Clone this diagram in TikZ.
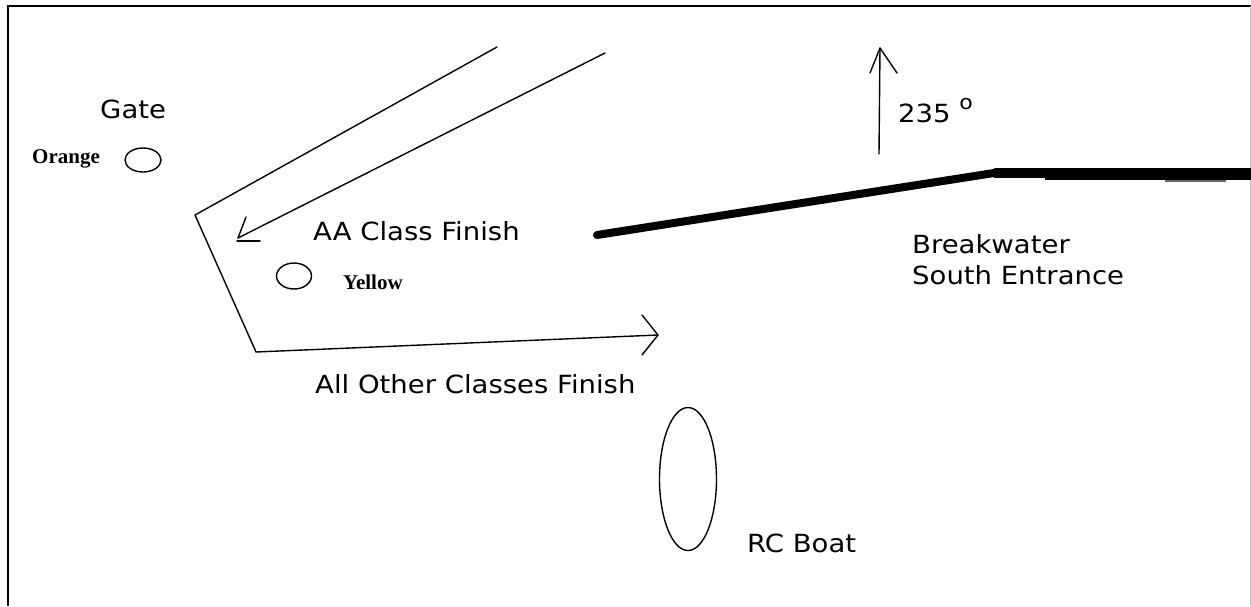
\documentclass[tikz,border=0pt]{standalone}
\usepackage{fontspec}
\setmainfont{Liberation Serif}
\newfontfamily\dvs{DejaVu Sans}
\usetikzlibrary{shapes.geometric}
\newcommand\wide[1]{\scalebox{1.1}[1]{#1}}
\tikzset{
  lbl/.style={anchor=base west, inner sep=0pt, font=\dvs\fontsize{25}{31}\selectfont},
  tag/.style={anchor=base west, inner sep=0pt, font=\bfseries\fontsize{21}{24}\selectfont},
  thinline/.style={line width=1.4pt, line cap=round, line join=round},
  buoy/.style={draw, ellipse, inner sep=0pt, line width=1.4pt},
}
\begin{document}
\begin{tikzpicture}[x=1pt, y=-1pt]
\useasboundingbox (0,0) rectangle (1251,606);
% frame
\draw[line width=2pt] (8,606) -- (8,6) -- (1251,6);
\draw[line width=1pt, black!25] (1250,6) -- (1250,606);

% labels
\node[lbl] (gate) at (100,118) {\wide{Gate}};
\node[tag] (orangelbl) at (32,163) {Orange};
\node[buoy, minimum width=36pt, minimum height=24pt] (orange) at (143,160) {};
\node[lbl] (aa) at (313,240) {\wide{AA Class Finish}};
\node[buoy, minimum width=35pt, minimum height=26pt] (yellow) at (294,276) {};
\node[tag] (yellowlbl) at (343,289) {Yellow};
\node[lbl] (allother) at (315,393) {\wide{All Other Classes Finish}};
\node[lbl] (deg) at (898,122) {\wide{235 \raisebox{13pt}{\fontsize{20}{20}\selectfont o}}};
\node[lbl, align=left] (bw) at (912,284) {\wide{Breakwater}\\\wide{South Entrance}};
\node[lbl] (rclbl) at (747,552) {\wide{RC Boat}};
\node[buoy, minimum width=57pt, minimum height=143pt] (rc) at (688,479) {};

% outer course line with arrow
\coordinate (c1) at (497,47);
\coordinate (c2) at (195,215);
\coordinate (c3) at (256,352);
\coordinate (c4) at (658,335);
\coordinate (h1) at (642,315);
\coordinate (h2) at (642,355);
\draw[thinline] (c1) -- (c2) -- (c3) -- (c4);
\draw[thinline] (h1) -- (c4) -- (h2);

% inner AA finish line with arrow
\coordinate (i1) at (605,53);
\coordinate (i2) at (238,238);
\coordinate (ia) at (246,217);
\coordinate (ib) at (237,241);
\coordinate (ic) at (260,241);
\draw[thinline] (i1) -- (i2);
\draw[thinline] (ia) -- (i2);
\draw[thinline] (ib) -- (ic);

% north arrow
\coordinate (n1) at (879,154);
\coordinate (n2) at (880,48);
\coordinate (na) at (870,73);
\coordinate (nb) at (897,73);
\draw[thinline] (n1) -- (n2);
\draw[thinline] (na) -- (n2) -- (nb);

% breakwater
\coordinate (b1) at (597,235);
\coordinate (b2) at (994,173);
\coordinate (b3) at (1251,173);
\coordinate (b4) at (1045,175);
\coordinate (b5) at (1251,175);
\draw[line width=8pt, line cap=round, line join=round] (b1) -- (b2);
\draw[line width=10pt, line join=round] (b2) -- (b3);
\draw[line width=10pt] (b4) -- (b5);
\coordinate (g1) at (1165,181);
\coordinate (g2) at (1226,181);
\draw[line width=1.5pt, black!60] (g1) -- (g2);
\end{tikzpicture}
\end{document}
